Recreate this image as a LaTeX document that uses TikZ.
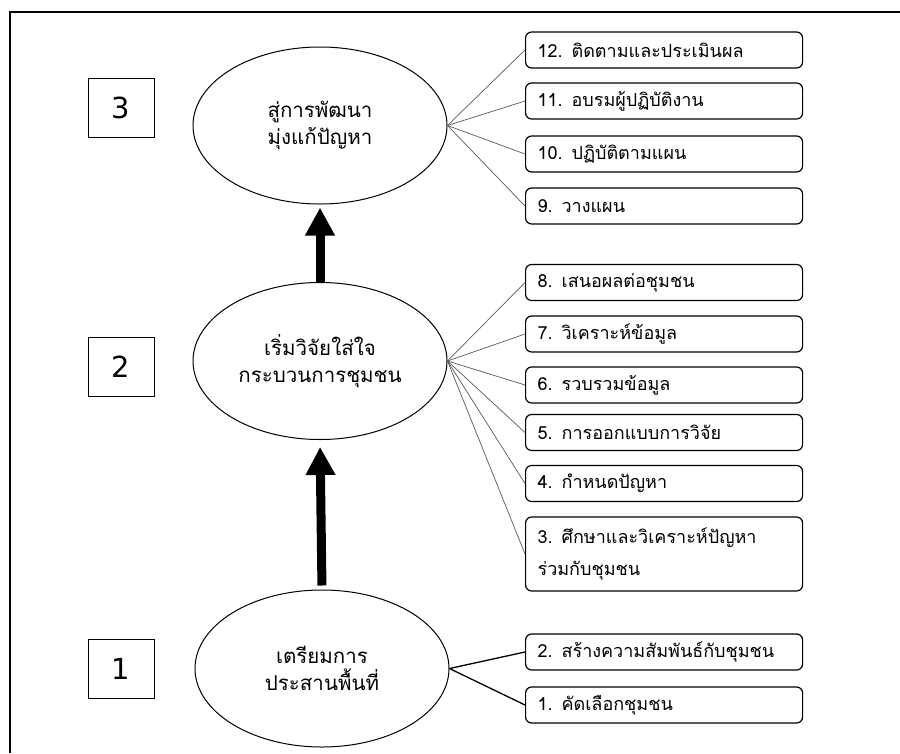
\documentclass[tikz,border=0pt]{standalone}
\usepackage{fontspec}
\newfontfamily\thaifont[Script=Thai]{Loma}
\newfontfamily\digitfont{DejaVu Sans}
\usetikzlibrary{shapes.geometric,arrows.meta}
\begin{document}
\begin{tikzpicture}[x=1pt,y=-1pt,
  numbox/.style={draw, line width=1pt, minimum width=66pt, minimum height=59pt, inner sep=0pt,
    font=\fontsize{29}{29}\selectfont\digitfont},
  phase/.style={draw, ellipse, line width=1pt, minimum width=254pt, minimum height=157pt, inner sep=0pt,
    align=center, font=\fontsize{20.5}{27}\selectfont\thaifont},
  stepbox/.style={draw, rounded corners=6pt, line width=1.2pt, minimum height=36pt,
    text width=253pt, inner xsep=12pt, inner ysep=0pt, align=left, anchor=west,
    font=\fontsize{18}{32}\selectfont\thaifont},
  thinline/.style={line width=0.7pt, draw=black!65},
  boldline/.style={line width=1.3pt, draw=black},
  bigarrow/.style={line width=9pt, -{Triangle[length=28pt,width=28pt]}}
]
\useasboundingbox (0,0) rectangle (900,753);
\draw[line width=1.5pt] (10,753) -- (10,12) -- (900,12);

\node[numbox] (n3) at (121,107.5) {3};
\node[numbox] (n2) at (121,366.5) {2};
\node[numbox] (n1) at (121,669) {1};

\node[phase] (e3) at (320,125.5) {สู่การพัฒนา\\มุ่งแก้ปัญหา};
\node[phase] (e2) at (320,361) {เริ่มวิจัยใส่ใจ\\กระบวนการชุมชน};
\node[phase] (e1) at (322,668.5) {เตรียมการ\\ประสานพื้นที่};

\node[stepbox] (s12) at (525,50) {12. ติดตามและประเมินผล};
\node[stepbox] (s11) at (525,101) {11. อบรมผู้ปฏิบัติงาน};
\node[stepbox] (s10) at (525,154) {10. ปฏิบัติตามแผน};
\node[stepbox] (s9) at (525,206) {9. วางแผน};
\node[stepbox] (s8) at (525,282.5) {8. เสนอผลต่อชุมชน};
\node[stepbox] (s7) at (525,334) {7. วิเคราะห์ข้อมูล};
\node[stepbox] (s6) at (525,385) {6. รวบรวมข้อมูล};
\node[stepbox] (s5) at (525,432.5) {5. การออกแบบการวิจัย};
\node[stepbox] (s4) at (525,483.5) {4. กำหนดปัญหา};
\node[stepbox, minimum height=74pt] (s3) at (525,554) {3. ศึกษาและวิเคราะห์ปัญหา\\ร่วมกับชุมชน};
\node[stepbox] (s2) at (525,652) {2. สร้างความสัมพันธ์กับชุมชน};
\node[stepbox] (s1) at (525,705) {1. คัดเลือกชุมชน};

\foreach \s in {s12,s11,s10,s9} \draw[thinline] (e3.east) -- (\s.west);
\foreach \s in {s8,s7,s6,s5,s4,s3} \draw[thinline] (e2.east) -- (\s.west);
\foreach \s in {s2,s1} \draw[boldline] (e1.east) -- (\s.west);

\draw[bigarrow, shorten >=7pt, shorten <=4pt] (e1.north) -- (e2.south);
\draw[bigarrow, shorten >=3pt] (e2.north) -- (e3.south);
\end{tikzpicture}
\end{document}
